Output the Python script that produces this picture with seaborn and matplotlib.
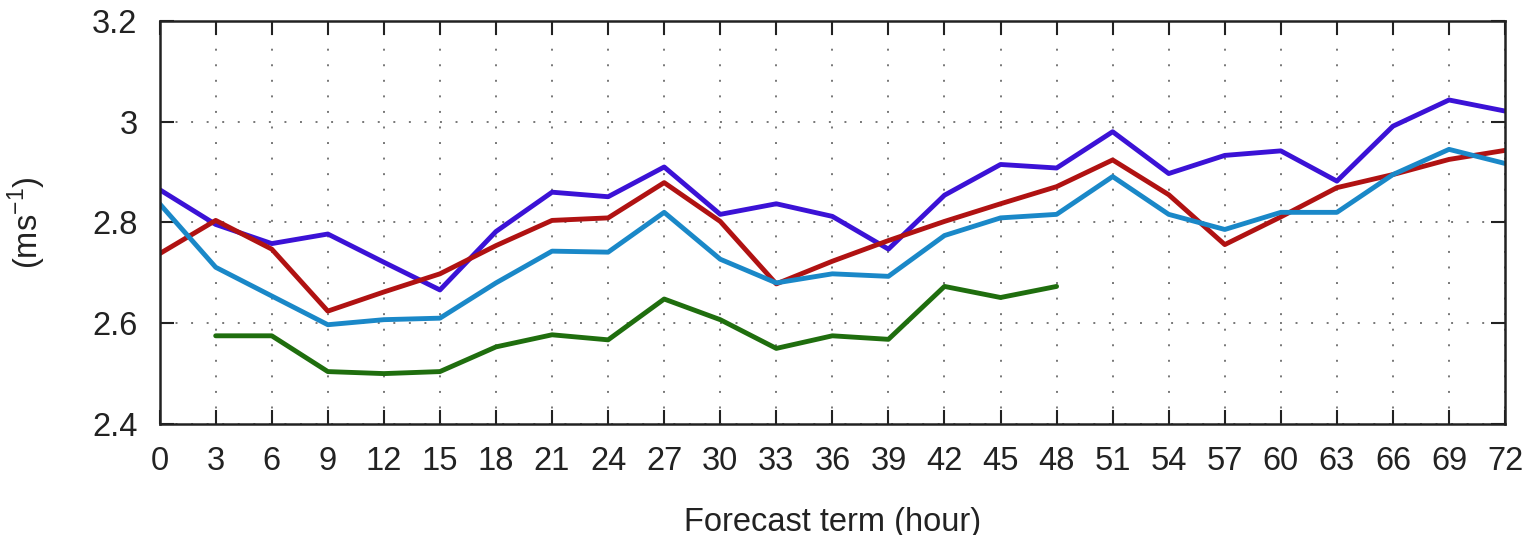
import matplotlib
matplotlib.use('Agg')
import matplotlib.pyplot as plt
import seaborn as sns
import numpy as np
import pandas as pd

# 预报时效 (小时)
hours = list(range(0, 73, 3))
hours_short = list(range(3, 49, 3))

# 各试验的风速误差 (m/s)
exp_purple = [2.865, 2.796, 2.758, 2.777, 2.721, 2.666, 2.782, 2.860, 2.851,
              2.910, 2.816, 2.837, 2.812, 2.747, 2.854, 2.915, 2.908,
              2.980, 2.897, 2.933, 2.942, 2.882, 2.991, 3.043, 3.021]
exp_red = [2.738, 2.804, 2.747, 2.624, 2.662, 2.698, 2.754, 2.804, 2.809,
           2.879, 2.802, 2.678, 2.723, 2.764, 2.802, 2.837, 2.871,
           2.924, 2.855, 2.756, 2.811, 2.869, 2.895, 2.925, 2.943]
exp_cyan = [2.837, 2.711, 2.654, 2.597, 2.607, 2.610, 2.680, 2.743, 2.741,
            2.820, 2.727, 2.680, 2.698, 2.693, 2.774, 2.809, 2.816,
            2.891, 2.816, 2.786, 2.820, 2.820, 2.895, 2.945, 2.917]
exp_green = [2.575, 2.575, 2.504, 2.500, 2.504, 2.553, 2.577, 2.567,
             2.648, 2.607, 2.550, 2.575, 2.568, 2.673, 2.651, 2.673]

yticks = [2.4, 2.6, 2.8, 3.0, 3.2]
ytick_labels = ['2.4', '2.6', '2.8', '3', '3.2']

sns.set_style('white')
plt.rcParams['font.family'] = ['Liberation Sans', 'DejaVu Sans']

fig, ax = plt.subplots(figsize=(15.35, 5.35), dpi=100)
fig.subplots_adjust(left=0.104, right=0.9805, top=0.961, bottom=0.2075)

series = [(hours, exp_purple, '#3b12d6'),
          (hours, exp_red, '#b01212'),
          (hours, exp_cyan, '#1a88c8'),
          (hours_short, exp_green, '#1f6e0e')]
for xs, ys, c in series:
    df = pd.DataFrame({'hour': xs, 'value': ys})
    sns.lineplot(data=df, x='hour', y='value', ax=ax, color=c, linewidth=3.5)

ax.set_xlim(0, 72)
ax.set_ylim(2.4, 3.2)
ax.set_xticks(hours)
ax.set_xticklabels([str(h) for h in hours], fontsize=23.5)
ax.set_yticks(yticks)
ax.set_yticklabels(ytick_labels, fontsize=23.5)
ax.tick_params(direction='in', length=10, width=1.5, top=True, right=True,
               bottom=True, left=True, colors='#222222')
ax.tick_params(axis='x', pad=16)
ax.tick_params(axis='y', pad=16)
ax.grid(True, linestyle=(0, (1, 7)), color='#777777', linewidth=1.4)

for s in ax.spines.values():
    s.set_visible(True)
    s.set_color('#222222')
    s.set_linewidth(1.8)

ax.set_xlabel('Forecast term (hour)', fontsize=23.5, color='#222222')
ax.set_ylabel('(ms$^{\\mathregular{-1}}$)', fontsize=23.5, color='#222222')
ax.xaxis.set_label_coords(0.5, -0.205)
ax.yaxis.set_label_coords(-0.083, 0.5)

plt.savefig('out.png', dpi=100)
plt.close()
